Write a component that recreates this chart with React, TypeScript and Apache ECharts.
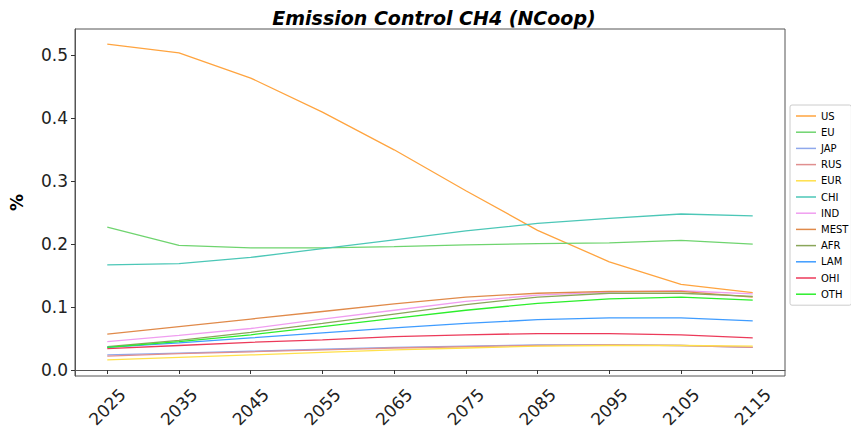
import React, { useEffect, useRef } from "react";
import * as echarts from "echarts";

const years = [2025, 2035, 2045, 2055, 2065, 2075, 2085, 2095, 2105, 2115];
const yTicks = [0, 0.1, 0.2, 0.3, 0.4, 0.5];

const US = [0.518, 0.504, 0.464, 0.41, 0.35, 0.285, 0.222, 0.172, 0.136, 0.123];
const EU = [0.227, 0.198, 0.194, 0.194, 0.196, 0.199, 0.201, 0.202, 0.206, 0.2];
const JAP = [0.024, 0.027, 0.03, 0.033, 0.036, 0.038, 0.04, 0.04, 0.039, 0.036];
const RUS = [0.022, 0.026, 0.029, 0.032, 0.035, 0.037, 0.039, 0.04, 0.039, 0.036];
const EUR = [0.016, 0.02, 0.024, 0.028, 0.032, 0.035, 0.038, 0.039, 0.039, 0.038];
const CHI = [0.167, 0.169, 0.179, 0.193, 0.207, 0.221, 0.233, 0.241, 0.248, 0.245];
const IND = [0.045, 0.055, 0.066, 0.081, 0.095, 0.109, 0.119, 0.124, 0.126, 0.121];
const MEST = [0.057, 0.069, 0.081, 0.093, 0.105, 0.116, 0.122, 0.125, 0.125, 0.116];
const AFR = [0.037, 0.047, 0.06, 0.074, 0.089, 0.104, 0.116, 0.122, 0.122, 0.117];
const LAM = [0.036, 0.043, 0.051, 0.059, 0.067, 0.074, 0.08, 0.083, 0.083, 0.078];
const OHI = [0.034, 0.039, 0.044, 0.048, 0.053, 0.056, 0.058, 0.058, 0.056, 0.051];
const OTH = [0.036, 0.045, 0.056, 0.069, 0.082, 0.095, 0.106, 0.113, 0.116, 0.111];

const seriesNames = ["US", "EU", "JAP", "RUS", "EUR", "CHI", "IND", "MEST", "AFR", "LAM", "OHI", "OTH"];
const seriesData = [US, EU, JAP, RUS, EUR, CHI, IND, MEST, AFR, LAM, OHI, OTH];
const colors = [
  "#ffa43f", "#6fd46f", "#8fa8ec", "#e08f8f", "#ffe04a", "#4cc7b7",
  "#f09ef0", "#e08a4a", "#8aa65a", "#3f9cff", "#ec3a5a", "#2cee2c",
];

export default function App() {
  const ref = useRef<HTMLDivElement>(null);
  useEffect(() => {
    if (!ref.current) return;
    const chart = echarts.init(ref.current, null, { renderer: "svg" });
    const font = "DejaVu Sans";
    chart.setOption({
      animation: false,
      backgroundColor: "#ffffff",
      title: {
        text: "Emission Control CH4 (NCoop)",
        left: 429,
        textAlign: "center",
        top: 3,
        textStyle: {
          fontFamily: font,
          fontSize: 19,
          fontWeight: "bold",
          fontStyle: "italic",
          color: "#000",
        },
      },
      grid: {
        left: 73,
        right: 66,
        top: 29,
        bottom: 57,
        show: true,
        borderColor: "#555",
        borderWidth: 1,
        backgroundColor: "transparent",
      },
      legend: {
        orient: "vertical",
        left: 790,
        top: 105,
        padding: [6, 3, 6, 6],
        icon: "rect",
        itemWidth: 20,
        itemHeight: 1.5,
        itemGap: 6.2,
        borderColor: "#ccc",
        borderWidth: 1,
        borderRadius: 2,
        textStyle: { fontFamily: font, fontSize: 10, lineHeight: 10, color: "#000" },
        data: seriesNames,
      },
      xAxis: {
        type: "value",
        min: 2020.5,
        max: 2119.5,
        axisLine: { show: true, lineStyle: { color: "#555" } },
        splitLine: { show: false },
        axisTick: {
          show: true,
          customValues: years,
          length: 4,
          lineStyle: { color: "#333" },
        },
        axisLabel: {
          customValues: years,
          rotate: 45,
          align: "center",
          verticalAlign: "middle",
          fontFamily: font,
          fontSize: 17,
          color: "#222",
          margin: 31,
          formatter: (v: number) => String(Math.round(v)),
        },
      },
      yAxis: {
        type: "value",
        min: -0.0095,
        max: 0.542,
        name: "%",
        nameLocation: "middle",
        nameGap: 50,
        nameRotate: 90,
        nameTextStyle: { fontFamily: font, fontSize: 17, fontWeight: "bold", color: "#000" },
        axisLine: { show: true, lineStyle: { color: "#555" } },
        splitLine: { show: false },
        axisTick: {
          show: true,
          customValues: yTicks,
          length: 4,
          lineStyle: { color: "#333" },
        },
        axisLabel: {
          customValues: yTicks,
          fontFamily: font,
          fontSize: 17,
          color: "#222",
          margin: 7,
          formatter: (v: number) => v.toFixed(1),
        },
      },
      series: seriesNames.map((name, i) => ({
        name,
        type: "line",
        data: years.map((y, j) => [y, seriesData[i][j]]),
        symbol: "none",
        lineStyle: { width: 1.3, color: colors[i] },
        itemStyle: { color: colors[i] },
        z: 2 + i,
      })),
    });
    return () => chart.dispose();
  }, []);
  return <div ref={ref} style={{ width: 851, height: 433, position: "absolute", left: 0, top: 0 }} />;
}
